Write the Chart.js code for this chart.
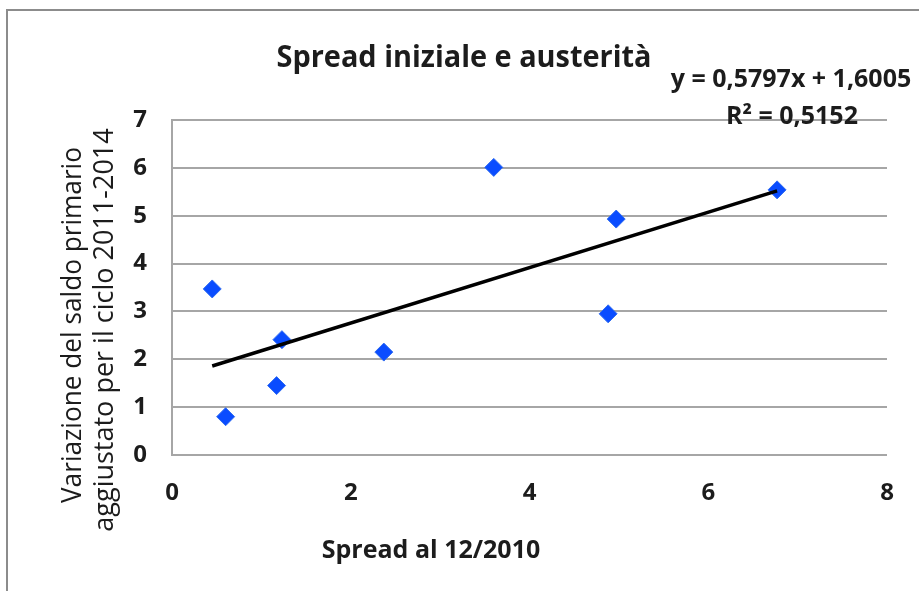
<!DOCTYPE html>
<html><head><meta charset="utf-8">
<script src="https://cdn.jsdelivr.net/npm/chart.js@4"></script>
<style>
html,body{margin:0;padding:0;background:#fff;overflow:hidden}
#wrap{position:relative;width:919px;height:591px}
#frame{position:absolute;left:6px;top:9px;width:940px;height:600px;border-left:2px solid #8c8c8c;border-top:2px solid #8c8c8c}
canvas{position:absolute;left:0;top:0}
</style></head><body>
<div id="wrap"><div id="frame"></div><canvas id="c" width="919" height="591"></canvas></div>
<script>
const spread = [0.45, 0.60, 1.17, 1.23, 2.37, 3.60, 4.88, 4.97, 6.77];
const saldo  = [3.47, 0.80, 1.45, 2.41, 2.15, 6.01, 2.95, 4.93, 5.54];
const trendX = [0.45, 6.77];
const trendY = [1.86, 5.52];
const xTicks = [0, 2, 4, 6, 8];
const yTicks = [0, 1, 2, 3, 4, 5, 6, 7];
const chartTitle = 'Spread iniziale e austerità';
const xTitle = 'Spread al 12/2010';
const yTitle = ['Variazione del saldo primario', 'aggiustato per il ciclo 2011-2014'];
const eqText = 'y = 0,5797x + 1,6005';
const r2Text = 'R² = 0,5152';

const FONT = '"Open Sans", "Liberation Sans", sans-serif';
const TXT = '#1c1c1c';

const textPlugin = {
  id: 'texts',
  afterDraw(chart) {
    const ctx = chart.ctx;
    ctx.save();
    ctx.fillStyle = TXT;
    ctx.textAlign = 'center';
    ctx.textBaseline = 'middle';
    ctx.font = 'bold 30px ' + FONT;
    ctx.fillText(chartTitle, 464, 58, 375);
    ctx.font = 'bold 25px ' + FONT;
    ctx.fillText(eqText, 791, 80, 247);
    ctx.fillText(r2Text, 792, 117, 140);
    ctx.font = 'bold 25px ' + FONT;
    ctx.fillText(xTitle, 431, 551, 227);
    ctx.font = '27px ' + FONT;
    ctx.save(); ctx.translate(73, 325); ctx.rotate(-Math.PI / 2);
    ctx.fillText(yTitle[0], 0, 0, 356); ctx.restore();
    ctx.save(); ctx.translate(105, 330); ctx.rotate(-Math.PI / 2);
    ctx.fillText(yTitle[1], 0, 0, 404); ctx.restore();
    ctx.restore();
  }
};

new Chart(document.getElementById('c'), {
  type: 'scatter',
  data: {
    datasets: [
      {
        type: 'scatter',
        data: spread.map((x, i) => ({ x, y: saldo[i] })),
        pointStyle: 'rectRot',
        pointRadius: 9,
        backgroundColor: '#0a4cff',
        borderColor: '#2f6cf0',
        borderWidth: 1,
        order: 2
      },
      {
        type: 'line',
        data: trendX.map((x, i) => ({ x, y: trendY[i] })),
        borderColor: '#000',
        borderWidth: 3.5,
        pointRadius: 0,
        fill: false,
        order: 1
      }
    ]
  },
  options: {
    responsive: false,
    animation: false,
    devicePixelRatio: 1,
    layout: { padding: { left: 0, top: 120, right: 32, bottom: 0 } },
    plugins: { legend: { display: false }, tooltip: { enabled: false }, title: { display: false } },
    scales: {
      x: {
        type: 'linear', min: 0, max: 8,
        afterBuildTicks: s => { s.ticks = xTicks.map(v => ({ value: v })); },
        afterFit: s => { s.height = 136; },
        grid: { display: false, drawTicks: false },
        border: { display: false },
        ticks: { padding: 24, color: TXT, font: { family: FONT, size: 24, weight: 'bold' } }
      },
      y: {
        type: 'linear', min: 0, max: 7,
        afterBuildTicks: s => { s.ticks = yTicks.map(v => ({ value: v })); },
        afterFit: s => { s.width = 172; },
        grid: { color: '#a6a6a6', lineWidth: 2, drawTicks: false },
        border: { display: true, color: '#a6a6a6', width: 2 },
        ticks: { padding: 25, color: TXT, font: { family: FONT, size: 24, weight: 'bold' } }
      }
    }
  },
  plugins: [textPlugin]
});
</script>
</body></html>
